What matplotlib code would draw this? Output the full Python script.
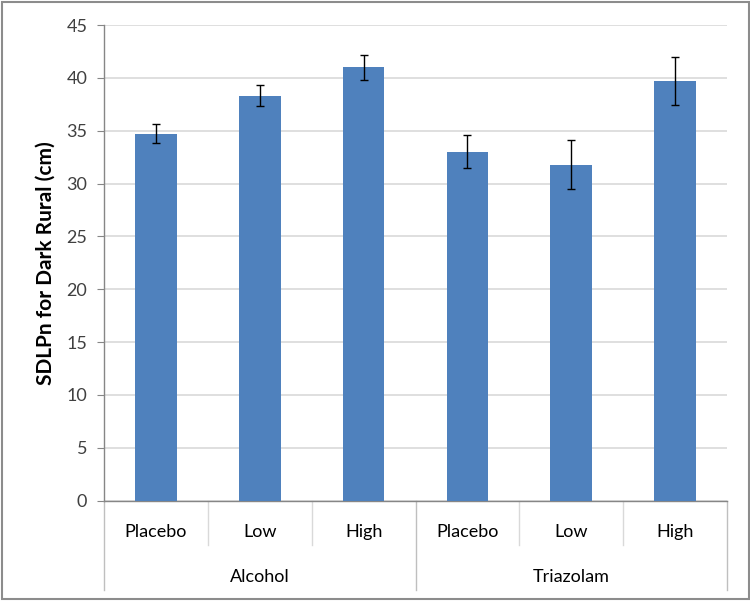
import numpy as np
import matplotlib.pyplot as plt
from matplotlib.patches import Rectangle
from matplotlib.transforms import blended_transform_factory

plt.rcParams['font.family'] = ['Lato', 'DejaVu Sans']

groups = ['Alcohol', 'Triazolam']
doses = ['Placebo', 'Low', 'High']
means = [34.7, 38.3, 41.0, 33.0, 31.8, 39.7]
errs = [0.9, 1.0, 1.2, 1.55, 2.3, 2.3]

BAR_COLOR = '#4F81BD'
GRID_COLOR = '#D9D9D9'
AXIS_COLOR = '#868686'
TEXT_COLOR = '#404040'

fig = plt.figure(figsize=(7.5, 6.01), dpi=100)
ax = fig.add_axes([0.1387, 0.1669, 0.8306, 0.7915])

x = np.arange(len(means))
ax.bar(x, means, width=0.4, color=BAR_COLOR, zorder=3)
ax.errorbar(x, means, yerr=errs, fmt='none', ecolor='black', elinewidth=1,
            capsize=3, capthick=1, zorder=4)

ax.set_xlim(-0.5, len(means) - 0.5)
ax.set_ylim(0, 45)
ax.set_yticks(np.arange(0, 46, 5))
ax.yaxis.grid(True, color=GRID_COLOR, linewidth=1.2, zorder=0)
ax.set_axisbelow(True)
ax.tick_params(axis='y', direction='out', length=5, color=AXIS_COLOR,
               labelsize=13, labelcolor=TEXT_COLOR, pad=7)
ax.set_xticks([])
for s in ['top', 'right']:
    ax.spines[s].set_visible(False)
for s in ['left', 'bottom']:
    ax.spines[s].set_color(AXIS_COLOR)
    ax.spines[s].set_linewidth(1)

ax.set_ylabel('SDLPn for Dark Rural (cm)', fontsize=15, fontweight='bold',
              color='black', labelpad=8)

# two-level category axis
trans = blended_transform_factory(ax.transData, ax.transAxes)
ax_h = 0.7915 * 6.01 * 100
sub_y = -31 / ax_h
grp_y = -76 / ax_h
inner_bottom = -44 / ax_h
outer_bottom = -89 / ax_h
for i, lab in enumerate(doses * len(groups)):
    ax.text(x[i], sub_y, lab, transform=trans, ha='center', va='center',
            fontsize=13, color='black')
for g, lab in enumerate(groups):
    ax.text(g * len(doses) + (len(doses) - 1) / 2, grp_y, lab, transform=trans,
            ha='center', va='center', fontsize=13, color='black')
for b in np.arange(-0.5, len(means), 1.0):
    is_group = (b + 0.5) % len(doses) == 0
    ax.plot([b, b], [0, outer_bottom if is_group else inner_bottom],
            transform=trans, color=GRID_COLOR if not is_group else '#BFBFBF',
            linewidth=1, clip_on=False)

fig.patches.append(Rectangle((0.002, 0.004), 0.996, 0.993, transform=fig.transFigure,
                             fill=False, edgecolor='#8C8C8C', linewidth=1.5))

fig.savefig('out.png', dpi=100)
